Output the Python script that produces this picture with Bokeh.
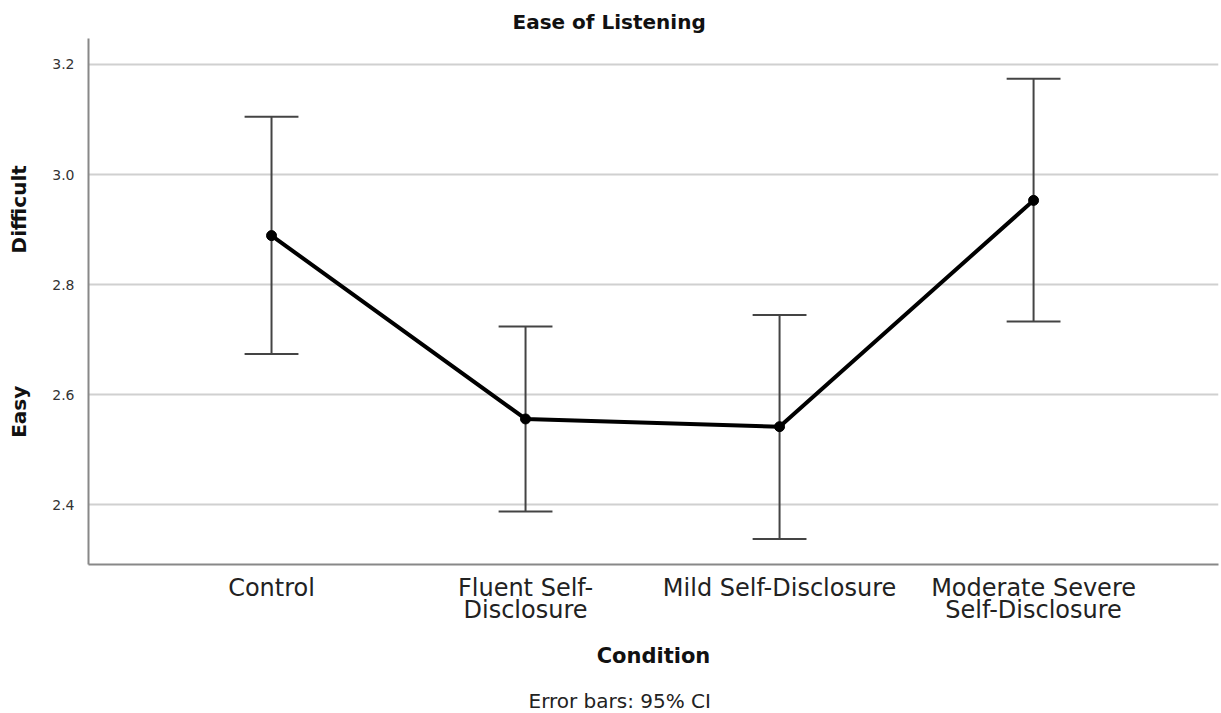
from bokeh.plotting import figure
from bokeh.models import FixedTicker, Title, Range1d, NumeralTickFormatter
from bokeh.embed import file_html
from bokeh.resources import INLINE

categories = ["Control", "Fluent Self-\nDisclosure", "Mild Self-Disclosure", "Moderate Severe\nSelf-Disclosure"]
means = [2.889, 2.556, 2.542, 2.953]
ci_low = [2.674, 2.388, 2.338, 2.733]
ci_high = [3.105, 2.724, 2.745, 3.174]
y_ticks = [2.4, 2.6, 2.8, 3.0, 3.2]

xs = list(range(len(categories)))
FONT = "DejaVu Sans"
NB = "\u00a0"

p = figure(width=1221, height=713, output_backend="svg", toolbar_location=None,
           x_range=Range1d(-0.7205, 3.728), y_range=Range1d(2.2917, 3.247),
           min_border_left=88, min_border_right=3, min_border_top=38, min_border_bottom=149)

p.title.text = "Ease of Listening"
p.title.align = "left"
p.title.offset = 424
p.title.text_font = FONT
p.title.text_font_size = "20px"
p.title.text_font_style = "bold"
p.title.text_color = "#111111"

p.outline_line_color = None
p.xgrid.grid_line_color = None
p.ygrid.grid_line_color = "#d0d0d0"
p.ygrid.grid_line_width = 2
p.ygrid.ticker = FixedTicker(ticks=y_ticks)

p.yaxis.ticker = FixedTicker(ticks=y_ticks)
p.yaxis.formatter = NumeralTickFormatter(format="0.0")
p.yaxis.major_tick_line_color = None
p.yaxis.minor_tick_line_color = None
p.yaxis.axis_line_color = "#888888"
p.yaxis.axis_line_width = 2
p.yaxis.major_label_text_font = FONT
p.yaxis.major_label_text_font_size = "14px"
p.yaxis.major_label_text_color = "#333333"
p.yaxis.major_label_standoff = 8
p.yaxis.axis_label = "Easy" + NB * 19 + "Difficult"
p.yaxis.axis_label_text_font = FONT
p.yaxis.axis_label_text_font_size = "20px"
p.yaxis.axis_label_text_font_style = "bold"
p.yaxis.axis_label_text_color = "#111111"
p.yaxis.axis_label_standoff = 18

p.xaxis.ticker = FixedTicker(ticks=xs)
p.xaxis.major_label_overrides = {i: c for i, c in zip(xs, categories)}
p.xaxis.major_tick_line_color = None
p.xaxis.minor_tick_line_color = None
p.xaxis.axis_line_color = "#888888"
p.xaxis.axis_line_width = 2
p.xaxis.major_label_text_font = FONT
p.xaxis.major_label_text_font_size = "24px"
p.xaxis.major_label_text_line_height = 0.8
p.xaxis.major_label_text_color = "#222222"
p.xaxis.major_label_standoff = 3
p.xaxis.axis_label = "Condition"
p.xaxis.axis_label_text_font = FONT
p.xaxis.axis_label_text_font_size = "21px"
p.xaxis.axis_label_text_font_style = "bold"
p.xaxis.axis_label_text_color = "#111111"
p.xaxis.axis_label_standoff = 17

# error bars (95% CI)
cap = 0.106
p.segment(x0=xs, y0=ci_low, x1=xs, y1=ci_high, line_color="#444444", line_width=2)
p.segment(x0=[x - cap for x in xs], y0=ci_high, x1=[x + cap for x in xs], y1=ci_high,
          line_color="#444444", line_width=2)
p.segment(x0=[x - cap for x in xs], y0=ci_low, x1=[x + cap for x in xs], y1=ci_low,
          line_color="#444444", line_width=2)

p.line(xs, means, line_color="black", line_width=4)
p.scatter(xs, means, size=10, color="black")

spacer = Title(text=NB, standoff=0, text_font=FONT, text_font_size="12px")
p.add_layout(spacer, "below")
note = Title(text="Error bars: 95% CI", align="left", offset=440, standoff=0, text_font=FONT,
             text_font_size="20px", text_font_style="normal", text_color="#222222")
p.add_layout(note, "below")

open("out.html", "w").write(file_html(p, INLINE))
